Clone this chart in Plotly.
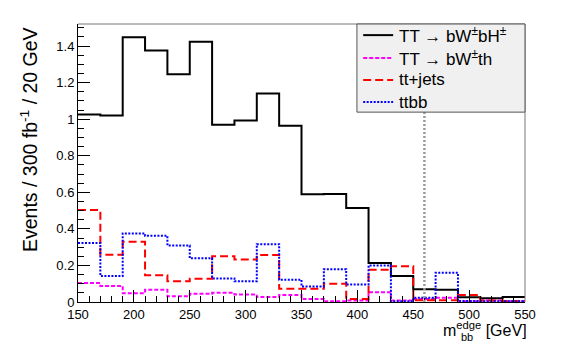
import plotly.graph_objects as go

# 20 GeV bins from 150 to 550 GeV
bin_edges = list(range(150, 551, 20))

# Events / 300 fb^-1 / 20 GeV
sig_bh = [1.025, 1.02, 1.448, 1.376, 1.246, 1.424, 0.970, 0.993, 1.140, 0.964,
          0.589, 0.591, 0.514, 0.213, 0.142, 0.070, 0.067, 0.026, 0.021, 0.028]
sig_th = [0.104, 0.088, 0.048, 0.067, 0.032, 0.045, 0.050, 0.041, 0.027, 0.038,
          0.017, 0.004, 0.008, 0.054, 0.008, 0.016, 0.023, 0.004, 0.008, 0.004]
tt_jets = [0.503, 0.259, 0.329, 0.146, 0.113, 0.127, 0.250, 0.232, 0.257, 0.072,
           0.072, 0.100, 0.016, 0.176, 0.196, 0.010, 0.010, 0.038, 0.008, 0.005]
ttbb = [0.323, 0.142, 0.375, 0.362, 0.309, 0.239, 0.129, 0.113, 0.316, 0.122,
        0.085, 0.179, 0.096, 0.200, 0.004, 0.023, 0.160, 0.006, 0.004, 0.004]

edge_cut = 460  # vertical marker
y_max = 1.05 * max(sig_bh)

series = [
    ("TT \u2192 bW<sup>\u00b1</sup>bH<sup>\u00b1</sup>", sig_bh, "black", "solid"),
    ("TT \u2192 bW<sup>\u00b1</sup>th", sig_th, "#ff00ff", "4px,2px"),
    ("tt+jets", tt_jets, "#ff0000", "8px,4px"),
    ("ttbb", ttbb, "#0000ff", "2px,1.5px"),
]

fig = go.Figure()

fig.add_shape(type="line", x0=edge_cut, x1=edge_cut, y0=0, y1=y_max,
              line=dict(color="#999999", width=2.5, dash="2px,2px"))

for name, vals, col, dash in series:
    fig.add_trace(go.Scatter(x=bin_edges, y=vals + [vals[-1]], mode="lines",
                             line=dict(color=col, width=2, dash=dash, shape="hv"),
                             name=name, showlegend=False))

fig.update_xaxes(range=[150, 550], tickvals=list(range(150, 551, 50)),
                 ticks="inside", ticklen=12, tickcolor="black", showline=True,
                 linecolor="black", linewidth=1, mirror=False, showgrid=False,
                 zeroline=False, tickfont=dict(size=13, color="black"),
                 minor=dict(dtick=10, tick0=150, ticks="inside", ticklen=6, tickcolor="black"))
fig.update_yaxes(range=[0, y_max], dtick=0.2,
                 ticks="inside", ticklen=12, tickcolor="black", showline=True,
                 linecolor="black", linewidth=1, mirror=False, showgrid=False,
                 zeroline=False, tickfont=dict(size=13, color="black"),
                 minor=dict(dtick=0.05, ticks="inside", ticklen=6, tickcolor="black"))

# gray frame on top / right
fig.add_shape(type="line", xref="paper", yref="paper", x0=0, x1=1, y0=1, y1=1,
              line=dict(color="#777777", width=1))
fig.add_shape(type="line", xref="paper", yref="paper", x0=1, x1=1, y0=0, y1=1,
              line=dict(color="#777777", width=1))

# ROOT style legend box
fig.add_shape(type="rect", xref="paper", yref="paper", x0=0.624, x1=1.0, y0=0.683, y1=1.0,
              fillcolor="#f0f0f0", line=dict(color="#555555", width=1), layer="above")
leg_y = [0.960, 0.878, 0.799, 0.719]
for (name, vals, col, dash), yy in zip(series, leg_y):
    fig.add_shape(type="line", xref="paper", yref="paper", x0=0.638, x1=0.705, y0=yy, y1=yy,
                  line=dict(color=col, width=2, dash=dash), layer="above")
    fig.add_annotation(text=name, xref="paper", yref="paper", x=0.714, y=yy,
                       xanchor="left", yanchor="middle", showarrow=False,
                       font=dict(size=17, color="black"))

fig.add_annotation(text="Events / 300 fb<sup>-1</sup> / 20 GeV", xref="paper", yref="paper",
                   x=-0.078, y=0.995, xanchor="right", yanchor="top", textangle=-90,
                   showarrow=False, font=dict(size=19.5, color="black"))
# x title: m with "edge" above and "bb" below, like ROOT's #it{m}_{bb}^{edge}
fig.add_annotation(text="m<sup>edge</sup> [GeV]", xref="paper", yref="paper",
                   x=1.008, y=-0.055, xanchor="right", yanchor="top",
                   showarrow=False, font=dict(size=16, color="black"))
fig.add_annotation(text="bb", xref="paper", yref="paper",
                   x=0.852, y=-0.126, xanchor="left", yanchor="middle",
                   showarrow=False, font=dict(size=11, color="black"))

# the page body adds an 8 px margin, so the figure is trimmed to fit the 581x363 window
fig.update_layout(
    width=573, height=355,
    margin=dict(l=70, r=56, t=16, b=61),
    plot_bgcolor="white", paper_bgcolor="white",
    font=dict(family="Liberation Sans, Arial, sans-serif", color="black"),
    showlegend=False,
)

fig.write_html("out.html")
